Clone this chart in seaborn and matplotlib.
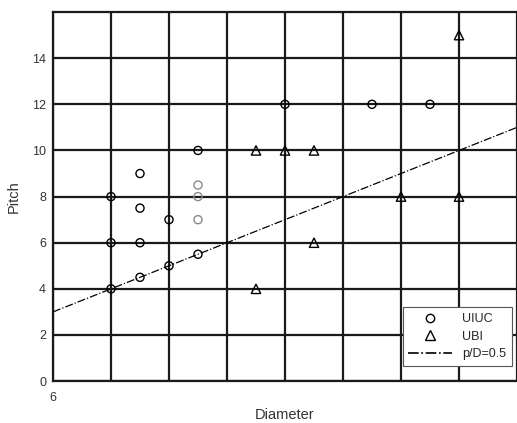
import matplotlib
matplotlib.use("Agg")
import matplotlib.pyplot as plt
import seaborn as sns
from matplotlib.lines import Line2D

# UIUC data (black circles)
uiuc_d = [8, 8, 8, 9, 9, 9, 9, 10, 10, 11, 11, 14, 17, 19]
uiuc_p = [4, 6, 8, 4.5, 6, 7.5, 9, 5, 7, 5.5, 10, 12, 12, 12]
# UIUC data drawn in grey
uiuc_grey_d = [11, 11, 11]
uiuc_grey_p = [7, 8, 8.5]
# UBI data (triangles)
ubi_d = [13, 13, 14, 15, 15, 18, 20, 20]
ubi_p = [4, 10, 10, 10, 6, 8, 8, 15]
# p/D = 0.5 reference line
line_d = [6, 22]
line_p = [3, 11]

sns.set_style("white")
plt.rcParams["font.family"] = ["Liberation Sans", "DejaVu Sans"]

fig = plt.figure(figsize=(5.17, 4.23), dpi=100)
ax = fig.add_axes([0.1025, 0.099, 0.8975, 0.8725])

ax.grid(True, color="#1a1a1a", linewidth=1.6)
ax.set_axisbelow(True)

sns.lineplot(x=line_d, y=line_p, ax=ax, color="black", linestyle="-.",
             linewidth=0.9, zorder=3)
sns.scatterplot(x=uiuc_d, y=uiuc_p, ax=ax, marker="o", s=34,
                facecolors="none", edgecolors="black", linewidth=1, zorder=4)
sns.scatterplot(x=uiuc_grey_d, y=uiuc_grey_p, ax=ax, marker="o", s=34,
                facecolors="none", edgecolors="#8a8a8a", linewidth=1, zorder=4)
sns.scatterplot(x=ubi_d, y=ubi_p, ax=ax, marker="^", s=45,
                facecolors="none", edgecolors="black", linewidth=1, zorder=4)

ax.set_xlim(6, 21.75)
ax.set_ylim(0, 16)
ax.set_xticks(range(6, 23, 2))
ax.set_xticklabels(["6"] + [""] * 8)
ax.set_yticks(range(0, 16, 2))
ax.tick_params(direction="in", length=3.5, width=1.2, color="#1a1a1a",
               labelsize=9, labelcolor="#333333", pad=5)
ax.tick_params(axis="x", pad=8)

for side in ["left", "bottom", "top"]:
    ax.spines[side].set_color("#1a1a1a")
    ax.spines[side].set_linewidth(1.6)
ax.spines["right"].set_visible(False)

ax.set_xlabel("Diameter", fontsize=10.5, color="#333333", labelpad=3)
ax.set_ylabel("Pitch", fontsize=10.5, color="#333333", labelpad=8)

handles = [
    Line2D([], [], marker="o", linestyle="", markerfacecolor="none",
           markeredgecolor="black", markersize=6),
    Line2D([], [], marker="^", linestyle="", markerfacecolor="none",
           markeredgecolor="black", markersize=7),
    Line2D([], [], color="black", linestyle="-.", linewidth=1.2),
]
leg = ax.legend(handles, ["UIUC", "UBI", "p/D=0.5"], loc="lower left",
                bbox_to_anchor=(0.754, 0.041), borderaxespad=0,
                fontsize=9, fancybox=False, framealpha=1,
                edgecolor="#555555", handlelength=3.5, handletextpad=0.8,
                labelspacing=0.45, borderpad=0.45)
leg.get_frame().set_linewidth(0.8)

fig.savefig("out.png", dpi=100)
